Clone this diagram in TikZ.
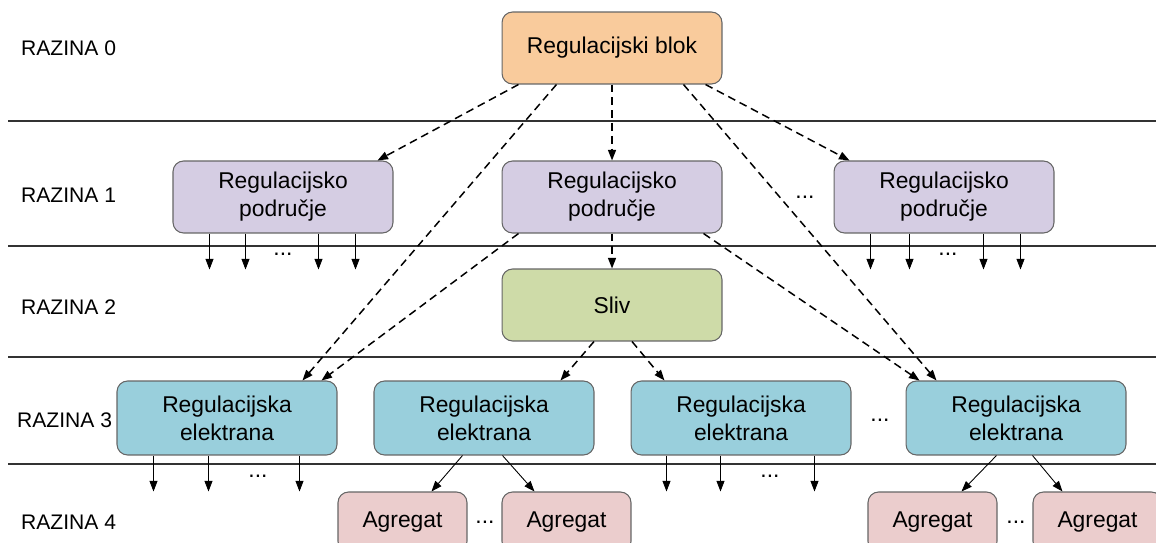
\documentclass[tikz,border=0pt]{standalone}
\usepackage{fontspec}
\setmainfont{Liberation Sans}
\usetikzlibrary{arrows.meta,calc}

\definecolor{blokfill}{HTML}{F9CB9C}
\definecolor{rpfill}{HTML}{D5CDE3}
\definecolor{slivfill}{HTML}{CEDBA8}
\definecolor{refill}{HTML}{99CFDC}
\definecolor{agrfill}{HTML}{EBCDCD}

\begin{document}
\begin{tikzpicture}
        [x=0.02cm,y=-0.02cm,>={Triangle[length=6pt,width=4.5pt]},
         every node/.style={font=\fontsize{13}{16}\selectfont},
         box/.style={draw=black!60,line width=0.6pt,rounded corners=6pt,align=center,
                     minimum width=4.4cm,minimum height=1.44cm},
         agr/.style={box,fill=agrfill,minimum width=2.58cm,minimum height=1.2cm},
         lvl/.style={anchor=west,font=\fontsize{12}{14}\selectfont},
         dsh/.style={->,dash pattern=on 4.5pt off 2.8pt,line width=0.85pt},
         sol/.style={->,line width=0.5pt}]
        \useasboundingbox (0,0) rectangle (1156,543);

        \foreach \y in {121,246,357,464}
            \draw[black!80,line width=0.6pt] (8,\y) -- (1156,\y);

        \node[lvl] (l0) at (15,48) {RAZINA 0};
        \node[lvl] (l1) at (15,195) {RAZINA 1};
        \node[lvl] (l2) at (15,307) {RAZINA 2};
        \node[lvl] (l3) at (11,420) {RAZINA 3};
        \node[lvl] (l4) at (15,522) {RAZINA 4};

        \node[box,fill=blokfill] (blok) at (612,48) {Regulacijski blok};
        \node[box,fill=rpfill] (rpA) at (283,197) {Regulacijsko\\područje};
        \node[box,fill=rpfill] (rpB) at (612,197) {Regulacijsko\\područje};
        \node[box,fill=rpfill] (rpC) at (944,197) {Regulacijsko\\područje};
        \node[box,fill=slivfill] (sliv) at (612,305) {Sliv};
        \node[box,fill=refill,minimum height=1.48cm] (reA) at (227,418) {Regulacijska\\elektrana};
        \node[box,fill=refill,minimum height=1.48cm] (reB) at (484,418) {Regulacijska\\elektrana};
        \node[box,fill=refill,minimum height=1.48cm] (reC) at (741,418) {Regulacijska\\elektrana};
        \node[box,fill=refill,minimum height=1.48cm] (reD) at (1016,418) {Regulacijska\\elektrana};
        \node[agr] (agA) at (402.5,522) {Agregat};
        \node[agr] (agB) at (566.5,522) {Agregat};
        \node[agr] (agC) at (932.5,522) {Agregat};
        \node[agr] (agD) at (1097.5,522) {Agregat};

        \node (dA) at (805,197) {...};
        \node (dB) at (880,420) {...};
        \node (dC) at (485,522) {...};
        \node (dD) at (1016,522) {...};
        \node (dE) at (283,254) {...};
        \node (dF) at (948,254) {...};
        \node (dG) at (258,476) {...};
        \node (dH) at (770,476) {...};

        \draw[dsh] ($(blok.south west)+(17,0)$) -- ($(rpA.north east)+(-16,0)$);
        \draw[dsh] ($(blok.south west)+(55,0)$) -- ($(reA.north west)+(186,0)$);
        \draw[dsh] (blok) -- (rpB);
        \draw[dsh] ($(blok.south east)+(-39,0)$) -- ($(reD.north west)+(31,0)$);
        \draw[dsh] ($(blok.south east)+(-17,0)$) -- ($(rpC.north west)+(16,0)$);
        \draw[dsh] ($(rpB.south west)+(17,0)$) -- ($(reA.north west)+(205,0)$);
        \draw[dsh] (rpB) -- (sliv);
        \draw[dsh] ($(rpB.south east)+(-19,0)$) -- ($(reD.north west)+(14,0)$);
        \draw[dsh] ($(sliv.south)+(-18,0)$) -- ($(reB.north east)+(-34,0)$);
        \draw[dsh] ($(sliv.south)+(20,0)$) -- ($(reC.north west)+(34,0)$);

        \draw[sol] ($(reB.south west)+(89,0)$) -- ($(agA.north west)+(94,0)$);
        \draw[sol] ($(reB.south west)+(129,0)$) -- ($(agB.north west)+(33,0)$);
        \draw[sol] ($(reD.south west)+(91,0)$) -- ($(agC.north west)+(94,0)$);
        \draw[sol] ($(reD.south west)+(127,0)$) -- ($(agD.north west)+(30,0)$);

        \foreach \x in {37,73,146,183}
            \draw[sol] ($(rpA.south west)+(\x,0)$) -- ++(0,36);
        \foreach \x in {37,76,150,187}
            \draw[sol] ($(rpC.south west)+(\x,0)$) -- ++(0,36);
        \foreach \x in {37,92,183}
            \draw[sol] ($(reA.south west)+(\x,0)$) -- ++(0,36);
        \foreach \x in {36,90,184}
            \draw[sol] ($(reC.south west)+(\x,0)$) -- ++(0,36);
    \end{tikzpicture}
\end{document}
